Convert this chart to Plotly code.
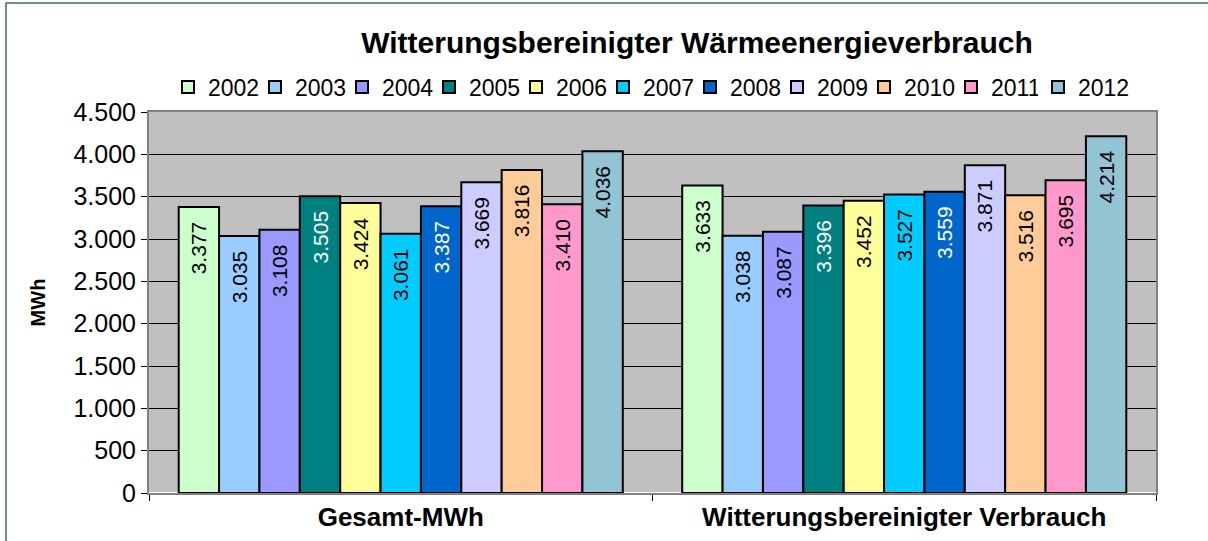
import plotly.graph_objects as go

categories = ["Gesamt-MWh", "Witterungsbereinigter Verbrauch"]
years = ["2002", "2003", "2004", "2005", "2006", "2007", "2008", "2009", "2010", "2011", "2012"]
gesamt = [3377, 3035, 3108, 3505, 3424, 3061, 3387, 3669, 3816, 3410, 4036]
witterung = [3633, 3038, 3087, 3396, 3452, 3527, 3559, 3871, 3516, 3695, 4214]
colors = ["#CCFFCC", "#99CCFF", "#9999FF", "#008080", "#FFFF99", "#00CCFF",
          "#0066CC", "#CCCCFF", "#FFCC99", "#FF99CC", "#93C4D4"]
label_colors = ["black", "black", "black", "white", "black", "black",
                "white", "black", "black", "black", "black"]

fig = go.Figure()
for i, year in enumerate(years):
    fig.add_trace(go.Bar(
        x=categories, y=[gesamt[i], witterung[i]], name=year,
        marker=dict(color=colors[i], line=dict(color="black", width=2)),
        texttemplate="%{y:,}\u00a0\u00a0", textposition="inside", insidetextanchor="end",
        textangle=-90, textfont=dict(size=21, color=label_colors[i]),
        # letzte legende separat, sonst wird 2012 abgeschnitten
        legend="legend2" if year == years[-1] else "legend",
    ))

# rand um das ganze diagramm
fig.add_shape(type="rect", xref="paper", yref="paper",
              x0=(6 - 149) / 1007, x1=1.2, y0=-0.3, y1=(493 - 3) / 381,
              line=dict(color="#3D6B80", width=1.5), layer="below")

leg = dict(orientation="h", xanchor="left", xref="container",
           y=1 - 87 / 541, yanchor="middle", yref="container",
           bgcolor="rgba(0,0,0,0)", font=dict(size=23),
           traceorder="normal", itemsizing="constant")

fig.update_layout(
    width=1208, height=541,
    margin=dict(l=149, r=52, t=112, b=48, autoexpand=False),
    paper_bgcolor="white", plot_bgcolor="#C0C0C0",
    font=dict(family="Liberation Sans, Arial, sans-serif", color="black"),
    separators=",.",
    barmode="group", bargap=0.118, bargroupgap=0,
    title=dict(text="<b>Witterungsbereinigter Wärmeenergieverbrauch</b>",
               x=697 / 1208, xanchor="center", y=1 - 42 / 541, yanchor="middle",
               font=dict(size=30)),
    legend=dict(leg, x=168 / 1208, entrywidth=42, entrywidthmode="pixels"),
    legend2=dict(leg, x=1038 / 1208),
    showlegend=True,
)
fig.update_xaxes(showline=True, linecolor="#808080", linewidth=2, mirror=True,
                 ticks="outside", tickson="boundaries", ticklen=6, tickcolor="black",
                 tickfont=dict(size=26), automargin=False,
                 tickprefix="<b>", ticksuffix="</b>")
fig.update_yaxes(range=[0, 4500], dtick=500, tickformat=",d",
                 showgrid=True, gridcolor="black", gridwidth=1,
                 showline=True, linecolor="#808080", linewidth=2, mirror=True,
                 ticks="outside", ticklen=6, tickcolor="black",
                 tickfont=dict(size=25), automargin=False,
                 title=dict(text="<b>MWh</b>", font=dict(size=20), standoff=22))

# body-rand der seite entfernen, damit die grafik bei 0,0 beginnt
fig.write_html("out.html", config={"displayModeBar": False},
               post_script="document.body.style.margin='0';")
